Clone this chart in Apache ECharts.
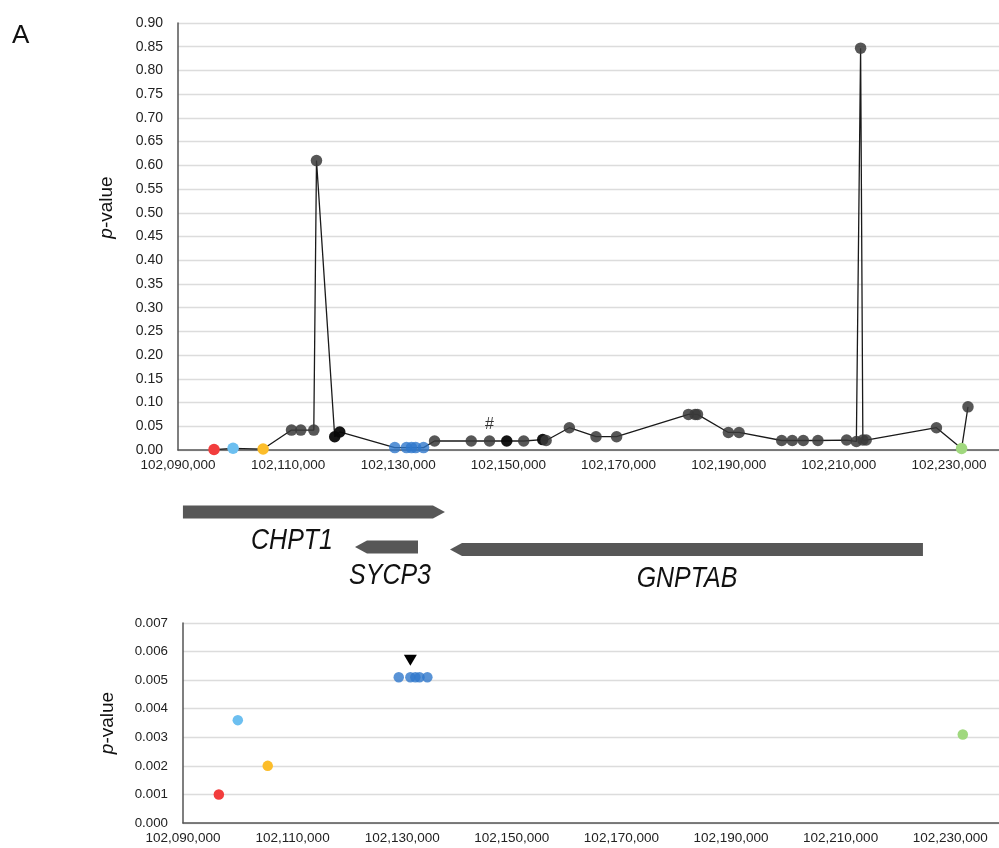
<!DOCTYPE html>
<html><head><meta charset="utf-8">
<script src="https://cdn.jsdelivr.net/npm/echarts@6/dist/echarts.min.js"></script>
<style>html,body{margin:0;padding:0;background:#fff;overflow:hidden}#chart{width:999px;height:848px}</style>
</head><body><div id="chart"></div>
<script>
// ---- data ----
const snpPositions = [
  102096540, 102100000, 102105460, 102110610, 102112300, 102114660, 102115150,
  102118460, 102119370, 102129370, 102131490, 102132400, 102133160, 102134590,
  102136590, 102143250, 102146570, 102149700, 102152780, 102156230, 102156850,
  102161070, 102165910, 102169650, 102182700, 102183910, 102184330, 102189950,
  102191890, 102199630, 102201550, 102203550, 102206210, 102211420, 102213190,
  102213960, 102214370, 102214970, 102227730, 102232300, 102233460
];
const pValues = [
  0.0010, 0.0036, 0.0020, 0.042, 0.042, 0.042, 0.610,
  0.028, 0.038, 0.0051, 0.0051, 0.0051, 0.0051, 0.0051,
  0.019, 0.019, 0.019, 0.019, 0.019, 0.022, 0.020,
  0.047, 0.028, 0.028, 0.075, 0.075, 0.075, 0.037,
  0.037, 0.020, 0.020, 0.020, 0.020, 0.021, 0.018,
  0.847, 0.021, 0.021, 0.047, 0.0031, 0.091
];
const snpGroups = [
  'red', 'ltblue', 'yellow', 'grey', 'grey', 'grey', 'grey',
  'black', 'black', 'blue', 'blue', 'blue', 'blue', 'blue',
  'grey', 'grey', 'grey', 'black', 'grey', 'black', 'grey',
  'grey', 'grey', 'grey', 'grey', 'grey', 'grey', 'grey',
  'grey', 'grey', 'grey', 'grey', 'grey', 'grey', 'grey',
  'grey', 'grey', 'grey', 'grey', 'green', 'grey'
];
const hashSnp = 102146570;     // SNP marked "#"
const arrowSnp = 102131490;    // SNP marked with a triangle in the zoom panel
const xMin = 102090000, xMax = 102240000, xLabelStep = 20000;
const topYMax = 0.90, topYStep = 0.05;
const bottomYMax = 0.007, bottomYStep = 0.001;
const geneNames  = ['CHPT1', 'SYCP3', 'GNPTAB'];
const geneStart  = [102090900, 102122140, 102139390];
const geneEnd    = [102138480, 102133580, 102225280];
const geneStrand = [1, -1, -1];
const geneLane   = [1, 1.97, 2.04];
const geneLabelAt = [102110700, 102128500, 102182430];

// ---- styles ----
const FONT = "'Liberation Sans', Arial, sans-serif";
const groupStyle = {
  grey:   {color: '#3a3a3a', opacity: 0.85},
  black:  {color: '#080808', opacity: 0.95},
  red:    {color: '#f23d3d', opacity: 1},
  ltblue: {color: '#6cbff0', opacity: 1},
  yellow: {color: '#fcbd2a', opacity: 1},
  blue:   {color: '#2f78cc', opacity: 0.8},
  green:  {color: '#a0d87e', opacity: 1}
};
const fmtPos = v => (v < xMax && (v - xMin) % xLabelStep === 0) ? Math.round(v).toLocaleString('en-US') : '';

const topData = snpPositions.map((x, i) => {
  const d = {value: [x, pValues[i]], itemStyle: groupStyle[snpGroups[i]]};
  if (x === hashSnp) d.label = {show: true, formatter: '#', position: 'top', distance: 3,
    fontSize: 16, fontFamily: FONT, color: '#111'};
  return d;
});
const zoomIdx = snpPositions.map((x, i) => i).filter(i => snpGroups[i] !== 'grey' && snpGroups[i] !== 'black');
const bottomData = zoomIdx.map(i => ({value: [snpPositions[i], pValues[i]], itemStyle: groupStyle[snpGroups[i]]}));
const arrowI = snpPositions.indexOf(arrowSnp);

const geneData = geneNames.map((n, i) => [geneStart[i], geneEnd[i], geneLane[i], geneStrand[i], geneLabelAt[i]]);

const xAxisCommon = {
  type: 'value', min: xMin, max: xMax, interval: 10000,
  axisLine: {show: true, lineStyle: {color: '#555', width: 1.5}},
  axisTick: {show: false}, splitLine: {show: false},
  axisLabel: {formatter: fmtPos, fontSize: 13.5, fontFamily: FONT, color: '#222', margin: 8,
    showMaxLabel: false}
};
const nameStyle = {fontSize: 19, fontFamily: FONT, color: '#111',
  rich: {i: {fontStyle: 'italic', fontSize: 19, fontFamily: FONT, color: '#111'}}};

const chart = echarts.init(document.getElementById('chart'), null, {renderer: 'canvas'});
chart.setOption({
  animation: false,
  backgroundColor: '#fff',
  graphic: [{type: 'text', left: 12, top: 23, style: {text: 'A', font: '26px ' + FONT, fill: '#111'}}],
  grid: [
    {left: 178, top: 23, width: 826, height: 427, containLabel: false, outerBoundsMode: 'none'},
    {left: 178, top: 476, width: 826, height: 108, containLabel: false, outerBoundsMode: 'none'},
    {left: 183, top: 623, width: 822, height: 200, containLabel: false, outerBoundsMode: 'none'}
  ],
  xAxis: [
    Object.assign({gridIndex: 0}, xAxisCommon),
    {gridIndex: 1, type: 'value', min: xMin, max: xMax, show: false},
    Object.assign({gridIndex: 2}, xAxisCommon)
  ],
  yAxis: [
    {gridIndex: 0, type: 'value', min: 0, max: topYMax, interval: topYStep,
      name: '{i|p}-value', nameLocation: 'middle', nameRotate: 90, nameGap: 62,
      nameTextStyle: Object.assign({padding: [0, 0, 0, 58]}, nameStyle),
      axisLine: {show: true, lineStyle: {color: '#555', width: 1.5}}, axisTick: {show: false},
      splitLine: {lineStyle: {color: '#dcdcdc', width: 1.3}},
      axisLabel: {formatter: v => v.toFixed(2), fontSize: 14, fontFamily: FONT, color: '#222', margin: 15}},
    {gridIndex: 1, type: 'value', min: 0, max: 3, inverse: true, show: false},
    {gridIndex: 2, type: 'value', min: 0, max: bottomYMax, interval: bottomYStep,
      name: '{i|p}-value', nameLocation: 'middle', nameRotate: 90, nameGap: 66,
      nameTextStyle: nameStyle,
      axisLine: {show: true, lineStyle: {color: '#555', width: 1.5}}, axisTick: {show: false},
      splitLine: {lineStyle: {color: '#dcdcdc', width: 1.3}},
      axisLabel: {formatter: v => v.toFixed(3), fontSize: 13.3, fontFamily: FONT, color: '#222', margin: 15}}
  ],
  series: [
    {type: 'line', xAxisIndex: 0, yAxisIndex: 0, data: topData, symbol: 'circle', symbolSize: 11.5,
      showAllSymbol: true, lineStyle: {color: '#1a1a1a', width: 1.3}, z: 3},
    {type: 'custom', xAxisIndex: 1, yAxisIndex: 1, data: geneData,
      renderItem: function (params, api) {
        const s = api.coord([api.value(0), api.value(2)]);
        const e = api.coord([api.value(1), api.value(2)]);
        const strand = api.value(3);
        const lx = api.coord([api.value(4), api.value(2)])[0];
        const y = s[1], h = 13, head = 12;
        let pts;
        if (strand > 0) pts = [[s[0], y - h / 2], [e[0] - head, y - h / 2], [e[0], y], [e[0] - head, y + h / 2], [s[0], y + h / 2]];
        else pts = [[s[0], y], [s[0] + head, y - h / 2], [e[0], y - h / 2], [e[0], y + h / 2], [s[0] + head, y + h / 2]];
        return {type: 'group', children: [
          {type: 'polygon', shape: {points: pts}, style: {fill: '#575757'}},
          {type: 'text', x: lx, y: y + 29, scaleX: 0.86,
            style: {text: geneNames[params.dataIndex], font: 'italic 29px ' + FONT, fill: '#111',
              textAlign: 'center', textVerticalAlign: 'middle'}}
        ]};
      }},
    {type: 'scatter', xAxisIndex: 2, yAxisIndex: 2, data: bottomData, symbol: 'circle', symbolSize: 10.5,
      markPoint: {symbol: 'triangle', symbolRotate: 180, symbolSize: [13, 11], symbolOffset: [0, -17],
        itemStyle: {color: '#000'}, label: {show: false},
        data: [{coord: [snpPositions[arrowI], pValues[arrowI]]}]}}
  ]
});
</script></body></html>
